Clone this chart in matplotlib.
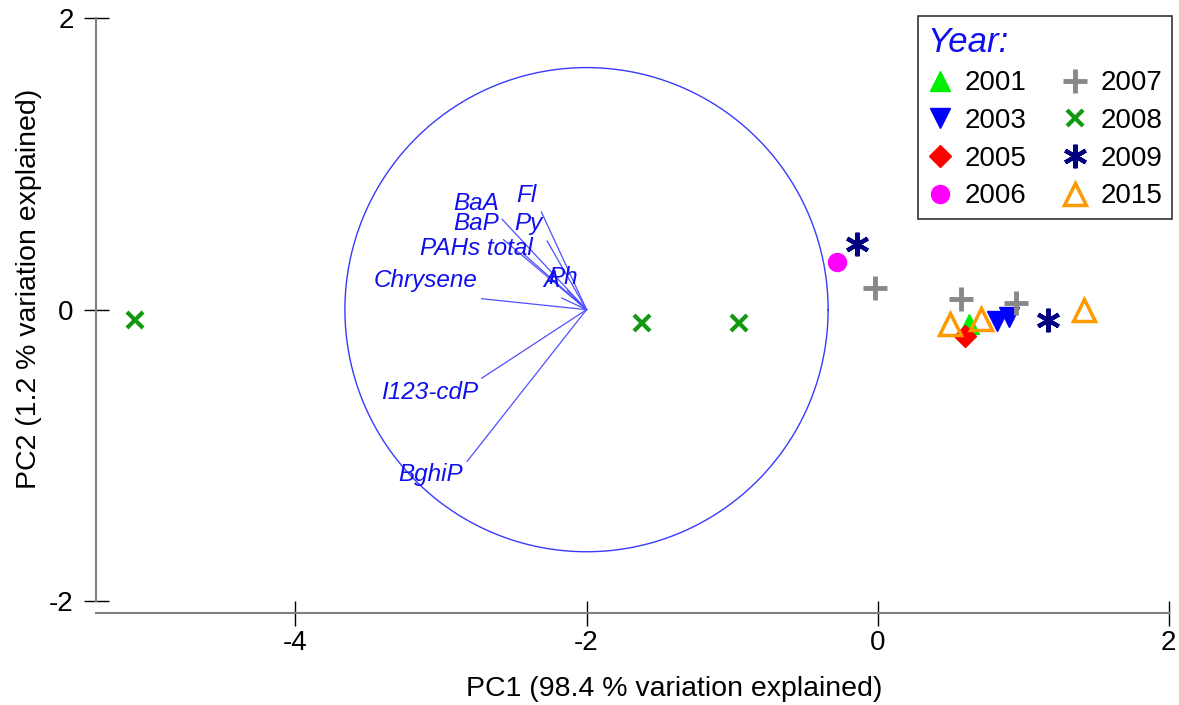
import numpy as np
import matplotlib
matplotlib.use("Agg")
import matplotlib.pyplot as plt

plt.rcParams['font.family'] = ['Liberation Sans', 'DejaVu Sans']
plt.rcParams['axes.unicode_minus'] = False

# sample scores on PC1 / PC2, by year
years = ['2001', '2003', '2005', '2006', '2007', '2008', '2009', '2015']
pc1 = {
    '2001': [0.63],
    '2003': [0.82, 0.90],
    '2005': [0.60],
    '2006': [-0.28],
    '2007': [-0.02, 0.57, 0.95],
    '2008': [-5.10, -1.62, -0.95],
    '2009': [-0.14, 1.17],
    '2015': [0.50, 0.71, 1.42],
}
pc2 = {
    '2001': [-0.10],
    '2003': [-0.075, -0.05],
    '2005': [-0.18],
    '2006': [0.33],
    '2007': [0.15, 0.07, 0.045],
    '2008': [-0.07, -0.09, -0.09],
    '2009': [0.45, -0.07],
    '2015': [-0.10, -0.065, 0.0],
}

# variable vectors (from the circle centre)
var_names = ['Fl', 'Py', 'BaA', 'BaP', 'PAHs total', 'Chrysene', 'A', 'Ph',
             'I123-cdP', 'BghiP']
vec_dx = [-0.31, -0.27, -0.58, -0.57, -0.43, -0.72, -0.17, -0.13, -0.72, -0.82]
vec_dy = [0.67, 0.47, 0.62, 0.48, 0.38, 0.075, 0.08, 0.13, -0.47, -1.04]
lab_x = [-2.41, -2.40, -2.76, -2.76, -2.755, -3.105, -2.24, -2.16, -3.08, -3.07]
lab_y = [0.78, 0.59, 0.73, 0.59, 0.42, 0.20, 0.20, 0.22, -0.57, -1.13]
centre = (-2.0, 0.0)
radius = 1.66

styles = {
    '2001': dict(marker='^', color='#00ee00', ms=15),
    '2003': dict(marker='v', color='#0000ff', ms=15),
    '2005': dict(marker='D', color='#ff0000', ms=11),
    '2006': dict(marker='o', color='#ff00ff', ms=13),
    '2007': dict(marker='+', color='#888888', ms=17, mew=3.5),
    '2008': dict(marker='x', color='#119911', ms=12, mew=3),
    '2009': dict(marker=(6, 2, 0), color='#000080', ms=17, mew=3),
    '2015': dict(marker='^', color='#ff9900', ms=16, mew=2.5, mfc='none'),
}

fig = plt.figure(figsize=(11.79, 7.05), dpi=100)
ax = fig.add_axes([96 / 1179, 1 - 613 / 705, 1080 / 1179, 595 / 705])

# correlation circle and vectors
t = np.linspace(0, 2 * np.pi, 400)
ax.plot(centre[0] + radius * np.cos(t), centre[1] + radius * np.sin(t),
        color='#3a3aff', lw=1.0, zorder=1)
for name, dx, dy, lx, ly in zip(var_names, vec_dx, vec_dy, lab_x, lab_y):
    ax.plot([centre[0], centre[0] + dx], [centre[1], centre[1] + dy],
            color='#5050ff', lw=0.9, zorder=1)
    ax.text(lx, ly, name, color='#1010ee', fontsize=17.5, style='italic',
            ha='center', va='center', zorder=2)

for yr in years:
    st = dict(styles[yr])
    c = st.pop('color')
    ax.plot(pc1[yr], pc2[yr], linestyle='none', mec=c,
            mfc=st.pop('mfc', c), label=yr, zorder=3, **st)

ax.set_xlim(-5.37, 2.05)
ax.set_ylim(-2.08, 2.0)
ax.set_xticks([-4, -2, 0, 2])
ax.set_yticks([-2, 0, 2])
for s in ['top', 'right']:
    ax.spines[s].set_visible(False)
ax.spines['left'].set_bounds(-2, 2)
ax.spines['bottom'].set_bounds(-5.37, 2)
for s in ['left', 'bottom']:
    ax.spines[s].set_color('#808080')
    ax.spines[s].set_linewidth(1.5)
ax.tick_params(direction='inout', length=18, width=1, color='black',
               labelsize=20)
ax.tick_params(axis='x', pad=3)
ax.tick_params(axis='y', pad=7)

ax.set_xlabel('PC1 (98.4 % variation explained)', fontsize=20.5)
ax.set_ylabel('PC2 (1.2 % variation explained)', fontsize=20.5)
ax.xaxis.set_label_coords(0.535, -0.106)
ax.yaxis.set_label_coords(-0.05, 0.545)

leg = ax.legend(ncol=2, loc='upper right', bbox_to_anchor=(1172 / 1179, 1 - 16 / 705),
                bbox_transform=fig.transFigure, fontsize=20, title='Year:',
                frameon=True, fancybox=False, edgecolor='black',
                handlelength=0.9, handletextpad=0.45, columnspacing=1.3,
                labelspacing=0.42, borderpad=0.35, borderaxespad=0)
leg.get_frame().set_linewidth(1.2)
leg.get_title().set_color('#1010ee')
leg.get_title().set_fontsize(25)
leg.get_title().set_style('italic')
leg._legend_box.align = 'left'

fig.savefig('out.png', dpi=100)
